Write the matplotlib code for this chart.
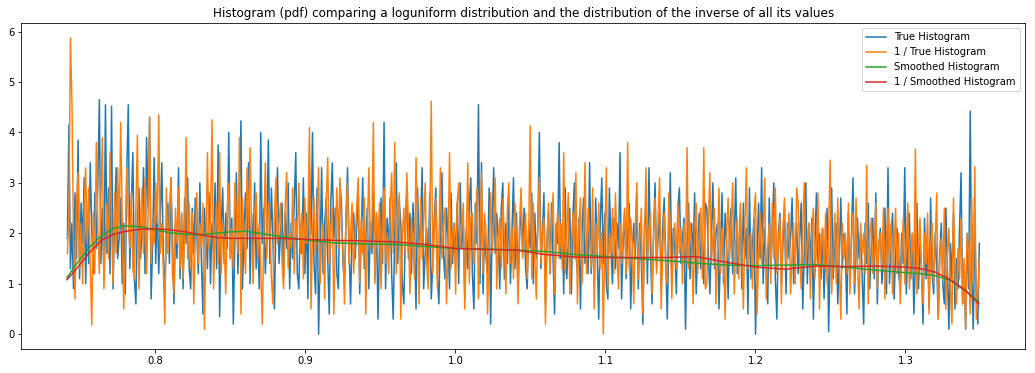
import numpy as np
from matplotlib import pyplot as plt

x_start, x_end = 0.7413, 1.3493

true_hist = [
    1.9, 4.15, 1.3, 2.2, 0.9, 2.8, 1.5, 3.85, 1.1, 2.6, 1.8, 3.1, 1.0, 2.4, 1.4, 3.4, 2.1, 1.2, 2.8, 1.7, 3.0, 4.65, 1.4, 2.5, 1.1, 4.55, 1.6, 2.9, 1.2, 4.52,
    0.9, 2.3, 3.3, 1.5, 1.9, 2.7, 1.0, 2.2, 0.8, 3.2, 4.55, 1.3, 2.6, 3.6, 1.1, 0.6, 2.4, 2.9, 1.5, 2.0, 3.3, 1.2, 3.9, 2.5, 4.3, 0.7, 1.8, 3.5, 1.4, 2.6,
    1.2, 2.3, 3.4, 1.6, 0.8, 2.0, 2.6, 1.4, 3.1, 1.9, 0.6, 2.2, 1.5, 3.3, 1.1, 2.4, 0.9, 2.7, 1.8, 3.1, 1.3, 0.9, 2.5, 1.6, 2.7, 2.0, 1.2, 3.0, 1.5, 0.4,
    2.5, 1.9, 1.3, 2.8, 1.0, 2.2, 1.6, 3.0, 1.3, 3.75, 0.35, 2.1, 2.9, 1.4, 2.4, 1.7, 4.0, 1.5, 2.3, 0.2, 1.9, 3.2, 1.2, 2.6, 4.23, 0.9, 2.0, 2.8, 1.7, 3.4,
    1.0, 2.4, 1.6, 3.0, 1.3, 2.1, 0.9, 4.0, 1.8, 2.5, 1.2, 2.0, 3.85, 1.4, 2.9, 1.9, 0.5, 2.3, 3.3, 1.4, 2.0, 2.6, 1.1, 2.4, 1.7, 3.0, 0.9, 2.2, 1.5, 2.6,
    3.6, 1.2, 0.9, 2.2, 1.6, 3.1, 1.2, 2.4, 0.7, 3.3, 2.0, 4.0, 1.4, 0.8, 2.9, 0.0, 1.6, 3.3, 1.2, 2.2, 2.7, 1.5, 0.4, 2.6, 3.4, 1.9, 2.5, 1.2, 0.9, 3.0,
    2.6, 1.4, 1.0, 2.3, 3.3, 1.7, 0.6, 2.0, 2.4, 1.5, 2.1, 2.9, 0.8, 1.9, 3.1, 1.3, 1.9, 2.5, 0.9, 2.2, 1.6, 2.8, 1.1, 2.4, 0.3, 1.8, 2.7, 1.4, 4.2, 0.9,
    2.3, 1.7, 2.7, 1.2, 0.3, 2.0, 3.4, 1.4, 2.6, 2.2, 1.0, 0.6, 2.1, 3.0, 1.5, 2.4, 1.2, 2.6, 1.8, 0.5, 2.9, 1.7, 2.2, 3.3, 0.9, 1.6, 2.1, 1.3, 2.8, 0.7,
    1.4, 2.3, 2.9, 1.2, 0.6, 2.0, 3.2, 1.6, 1.1, 2.5, 1.9, 0.9, 2.8, 1.4, 2.2, 1.5, 2.6, 1.0, 3.0, 1.7, 2.3, 0.7, 2.1, 1.3, 2.6, 3.1, 1.2, 0.5, 2.6, 1.8,
    4.55, 1.0, 3.4, 0.8, 2.0, 1.5, 1.2, 2.9, 0.2, 2.2, 3.3, 1.6, 2.4, 1.9, 0.9, 2.5, 3.0, 1.1, 2.2, 1.4, 2.7, 1.0, 2.0, 3.1, 1.3, 2.4, 0.8, 1.9, 2.6, 1.6,
    2.5, 1.3, 0.9, 2.2, 1.7, 2.8, 1.0, 2.4, 1.5, 2.1, 4.0, 1.3, 2.0, 2.8, 0.6, 1.9, 2.4, 1.2, 2.6, 1.5, 0.4, 2.2, 1.8, 3.8, 1.5, 2.2, 0.8, 2.9, 1.1, 1.8,
    2.5, 0.8, 2.3, 3.0, 1.6, 1.2, 2.3, 0.5, 2.0, 2.7, 1.4, 1.9, 1.2, 3.4, 1.2, 2.1, 0.9, 2.7, 1.6, 0.3, 2.2, 3.1, 1.4, 2.4, 1.0, 0.7, 2.9, 1.8, 1.0, 2.3,
    1.3, 2.2, 1.7, 3.6, 0.7, 1.8, 2.4, 1.1, 2.0, 2.6, 0.5, 1.6, 2.2, 1.5, 2.8, 0.9, 2.2, 1.4, 0.2, 2.1, 2.6, 1.0, 3.3, 1.6, 0.6, 2.0, 3.0, 1.3, 1.9, 2.4,
    0.9, 2.1, 2.7, 1.5, 0.3, 1.7, 3.2, 1.2, 2.1, 1.7, 0.8, 2.5, 2.9, 1.4, 1.9, 2.3, 0.1, 1.8, 2.6, 1.1, 2.2, 1.5, 2.8, 0.8, 1.7, 2.4, 1.3, 2.0, 1.0, 2.6,
    2.5, 1.6, 0.8, 1.9, 3.0, 1.3, 2.0, 2.2, 0.5, 1.7, 2.8, 1.0, 2.4, 1.8, 0.7, 2.1, 2.5, 1.2, 1.9, 3.1, 1.2, 1.6, 2.4, 0.9, 2.6, 1.5, 2.1, 0.4, 2.9, 1.1,
    1.8, 2.3, 0.0, 1.6, 2.6, 1.5, 3.3, 1.0, 2.1, 1.4, 0.6, 2.7, 1.3, 2.0, 3.0, 1.1, 0.3, 2.0, 2.4, 1.0, 1.8, 2.5, 0.8, 2.2, 1.5, 1.9, 2.7, 1.0, 1.6, 2.2,
    1.2, 1.9, 2.6, 0.5, 1.6, 3.0, 1.0, 2.2, 1.4, 2.3, 0.3, 1.8, 2.8, 1.4, 2.0, 1.1, 2.1, 0.7, 1.7, 2.5, 0.05, 1.6, 2.9, 1.1, 1.8, 2.2, 0.6, 1.5, 2.7, 1.3,
    2.0, 1.6, 0.4, 2.4, 1.0, 1.9, 3.1, 0.8, 1.6, 2.3, 1.5, 2.0, 1.2, 0.2, 2.2, 1.4, 2.6, 0.9, 1.7, 2.3, 1.1, 2.8, 0.6, 1.8, 2.1, 1.0, 1.5, 2.5, 0.8, 3.3,
    1.0, 1.9, 2.4, 0.7, 1.6, 2.1, 1.2, 0.9, 2.0, 1.4, 3.3, 0.8, 1.7, 2.4, 1.1, 2.0, 0.4, 1.5, 2.6, 0.9, 1.8, 1.3, 0.2, 2.3, 1.1, 1.7, 0.5, 2.7, 1.2, 0.8,
    2.0, 1.4, 0.3, 1.6, 2.2, 1.0, 0.6, 2.5, 1.3, 0.1, 1.8, 1.1, 2.4, 0.5, 1.5, 0.9, 2.1, 3.2, 0.6, 1.4, 0.1, 2.0, 0.9, 4.42, 1.2, 0.1, 2.1, 0.7, 0.2, 1.8,
]

inv_true_hist = [
    1.6, 2.4, 5.87, 4.58, 1.9, 0.7, 2.6, 3.2, 1.3, 2.2, 1.0, 2.5, 3.3, 1.8, 2.9, 1.4, 0.18, 2.4, 1.2, 3.8, 2.1, 1.2, 2.7, 3.9, 0.9, 1.9, 2.6, 1.5, 3.6, 2.2,
    1.0, 2.8, 1.6, 3.3, 2.0, 4.2, 2.4, 0.5, 1.7, 3.3, 2.3, 1.7, 2.8, 1.3, 1.1, 2.5, 3.95, 0.9, 2.1, 2.9, 1.6, 3.1, 1.2, 2.4, 4.3, 1.4, 2.1, 1.8, 3.0, 2.2,
    4.35, 1.6, 2.2, 1.3, 0.2, 2.9, 1.6, 2.4, 3.1, 1.2, 0.8, 2.5, 1.8, 2.9, 1.3, 2.4, 1.1, 2.0, 3.9, 1.5, 2.6, 1.3, 2.4, 0.6, 1.9, 2.8, 1.4, 2.2, 1.7, 2.6,
    0.1, 1.9, 3.6, 1.7, 2.3, 4.25, 0.9, 2.0, 2.6, 1.4, 3.6, 1.2, 2.2, 1.8, 0.8, 2.5, 3.0, 1.5, 2.1, 1.3, 3.0, 2.4, 1.6, 3.9, 0.4, 2.7, 1.9, 1.2, 3.3, 2.1,
    3.7, 2.0, 1.0, 2.4, 2.8, 1.5, 2.2, 1.3, 0.2, 2.0, 3.4, 1.5, 2.6, 2.3, 1.1, 0.6, 2.4, 3.1, 1.8, 2.2, 2.6, 1.4, 0.9, 2.5, 3.2, 1.3, 2.0, 1.7, 2.9, 1.2,
    2.3, 1.9, 3.0, 1.6, 2.4, 1.1, 2.7, 1.8, 2.2, 4.1, 0.5, 2.0, 2.7, 1.6, 2.3, 3.3, 1.0, 1.8, 2.2, 0.7, 2.6, 3.5, 1.4, 2.1, 2.5, 0.4, 1.9, 2.9, 1.7, 3.1,
    2.1, 1.7, 0.6, 2.4, 3.0, 1.4, 2.0, 2.6, 1.2, 1.9, 2.5, 3.1, 1.0, 2.3, 1.6, 2.7, 0.4, 2.0, 3.3, 1.7, 2.2, 4.2, 1.0, 2.4, 1.8, 2.6, 0.9, 2.2, 2.9, 1.4,
    2.0, 1.2, 2.5, 3.2, 1.6, 3.8, 1.2, 2.3, 2.8, 0.3, 1.9, 2.5, 1.6, 3.2, 2.1, 0.8, 2.3, 1.8, 1.1, 3.5, 2.0, 0.6, 2.7, 1.5, 2.2, 3.0, 1.4, 0.9, 2.2, 4.62,
    1.2, 2.0, 2.7, 0.9, 1.8, 3.3, 1.5, 2.2, 2.5, 0.6, 1.7, 3.6, 1.3, 2.0, 2.2, 0.8, 2.6, 3.0, 1.7, 2.1, 2.6, 0.5, 1.8, 3.4, 1.0, 2.3, 2.4, 1.4, 2.0, 2.9,
    0.7, 1.9, 3.2, 1.2, 2.4, 2.0, 0.4, 1.7, 2.8, 1.6, 2.2, 3.1, 0.9, 1.8, 2.3, 1.3, 2.7, 1.9, 0.8, 2.5, 3.0, 1.4, 2.1, 1.1, 2.6, 1.8, 0.6, 2.2, 2.9, 1.5,
    1.9, 2.4, 1.1, 2.0, 4.13, 1.1, 2.6, 1.5, 0.7, 2.3, 3.1, 1.4, 2.0, 2.3, 0.2, 1.8, 2.6, 1.2, 2.2, 2.8, 0.8, 1.9, 2.4, 1.5, 2.2, 1.3, 3.6, 1.2, 2.0, 2.8,
    0.8, 1.7, 2.4, 1.5, 3.2, 0.6, 2.1, 2.7, 1.0, 1.8, 3.4, 1.2, 2.5, 1.9, 1.3, 2.9, 0.5, 2.2, 1.6, 2.6, 1.3, 2.0, 0.0, 1.9, 3.3, 0.9, 2.0, 1.6, 2.5, 1.2,
    2.8, 1.6, 0.9, 2.2, 1.4, 2.0, 2.5, 1.2, 3.8, 1.3, 2.3, 1.8, 0.6, 2.1, 3.0, 1.1, 1.9, 2.5, 0.4, 1.7, 3.3, 1.5, 2.1, 2.4, 0.8, 1.9, 2.7, 1.2, 2.3, 3.1,
    0.5, 1.6, 2.4, 1.3, 1.0, 2.8, 2.0, 0.7, 1.8, 2.2, 1.3, 2.6, 1.6, 2.1, 1.0, 2.2, 1.4, 3.7, 1.3, 2.2, 1.8, 0.6, 2.0, 2.6, 1.2, 1.8, 2.5, 1.1, 3.7, 0.9,
    1.0, 2.2, 3.2, 1.4, 1.9, 2.5, 0.6, 1.7, 2.9, 1.2, 2.1, 1.6, 0.3, 2.0, 2.7, 1.5, 2.2, 3.0, 0.8, 1.8, 2.3, 1.1, 2.6, 1.7, 0.5, 2.1, 3.3, 1.3, 1.9, 2.0,
    0.9, 2.4, 2.8, 0.4, 1.6, 2.4, 1.4, 2.0, 3.1, 0.7, 1.7, 2.2, 1.0, 2.6, 1.5, 2.9, 1.2, 1.8, 2.3, 0.6, 2.1, 2.7, 1.3, 1.9, 2.4, 0.8, 1.6, 2.2, 1.0, 2.9,
    2.6, 1.5, 0.9, 2.1, 3.0, 1.4, 1.8, 2.2, 0.7, 2.0, 2.5, 1.1, 1.7, 2.8, 0.5, 1.9, 2.1, 1.3, 2.4, 1.0, 2.0, 3.45, 0.8, 1.6, 2.4, 1.0, 2.7, 1.4, 0.3, 2.2,
    1.5, 2.0, 1.2, 2.6, 0.8, 1.9, 2.4, 1.0, 2.7, 1.4, 0.5, 2.2, 1.6, 2.0, 1.2, 3.35, 0.6, 1.9, 2.3, 1.2, 1.6, 2.6, 0.9, 1.8, 2.0, 1.3, 2.5, 0.7, 1.8, 2.5,
    1.4, 2.2, 0.8, 1.7, 2.5, 1.2, 2.0, 0.6, 1.5, 2.3, 1.0, 1.8, 2.6, 0.9, 1.4, 2.0, 1.2, 3.67, 0.8, 1.6, 2.3, 1.2, 0.6, 2.0, 1.4, 2.4, 0.4, 1.7, 2.2, 1.0,
    1.8, 2.8, 0.3, 1.5, 1.9, 1.1, 2.5, 0.5, 1.6, 2.1, 0.9, 0.2, 2.7, 1.3, 0.6, 1.7, 1.1, 2.3, 0.6, 1.5, 0.1, 2.0, 1.6, 0.4, 2.7, 1.0, 3.32, 0.3, 0.8, 1.5,
]

smooth_x = [0.741, 0.748, 0.756, 0.764, 0.772, 0.780, 0.790, 0.800, 0.810, 0.820, 0.830, 0.840, 0.850, 0.860,
            0.870, 0.885, 0.900, 0.920, 0.940, 0.960, 0.980, 1.000, 1.020, 1.040, 1.060, 1.080, 1.100, 1.120,
            1.140, 1.160, 1.180, 1.200, 1.220, 1.240, 1.260, 1.280, 1.300, 1.310, 1.320, 1.330, 1.340, 1.349]
smooth_hist = [1.12, 1.42, 1.72, 1.95, 2.10, 2.15, 2.13, 2.07, 2.01, 1.98, 1.97, 2.00, 2.03, 2.04,
               2.00, 1.93, 1.87, 1.81, 1.79, 1.78, 1.74, 1.70, 1.69, 1.67, 1.64, 1.58, 1.54, 1.50,
               1.46, 1.41, 1.37, 1.36, 1.37, 1.38, 1.33, 1.27, 1.22, 1.20, 1.16, 1.07, 0.86, 0.65]
inv_smooth_hist = [1.08, 1.32, 1.62, 1.86, 1.98, 2.04, 2.08, 2.09, 2.07, 2.03, 1.97, 1.92, 1.90, 1.90,
                   1.90, 1.90, 1.88, 1.86, 1.85, 1.83, 1.78, 1.70, 1.68, 1.67, 1.58, 1.53, 1.52, 1.52,
                   1.52, 1.54, 1.43, 1.33, 1.29, 1.35, 1.34, 1.35, 1.33, 1.30, 1.23, 1.08, 0.87, 0.60]

bins_true = np.linspace(x_start, x_end, len(true_hist))
bins_inv = np.linspace(x_start, x_end, len(inv_true_hist))

fig = plt.figure(figsize=(1035 / 72, 373 / 72), dpi=72)
ax = fig.add_axes([0.0206, 0.0643, 0.9697, 0.8732])
ax.plot(bins_true, true_hist, label="True Histogram")
ax.plot(bins_inv, inv_true_hist, label="1 / True Histogram")
ax.plot(smooth_x, smooth_hist, label="Smoothed Histogram")
ax.plot(smooth_x, inv_smooth_hist, label="1 / Smoothed Histogram")
ax.set_title("Histogram (pdf) comparing a loguniform distribution and the distribution of the inverse of all its values")
ax.legend(loc="upper right")
fig.savefig("out.png", dpi=72)
